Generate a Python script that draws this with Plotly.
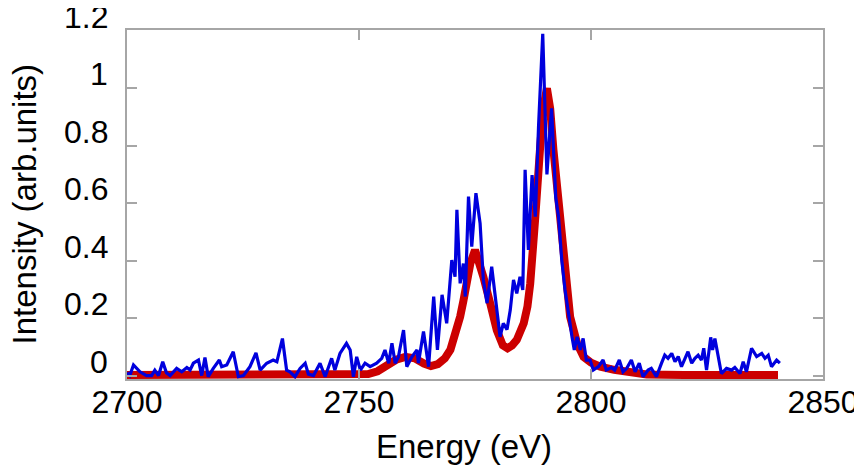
import plotly.graph_objects as go

# Measured spectrum (blue)
meas_energy = [
    2700.0, 2700.6, 2701.4, 2702.8, 2704.2, 2705.3, 2706.0, 2706.8, 2707.7, 2708.5,
    2709.3, 2710.7, 2711.8, 2712.9, 2713.6, 2714.3, 2715.4, 2716.1, 2716.8, 2717.5,
    2718.6, 2719.9, 2720.4, 2721.5, 2722.9, 2724.0, 2725.1, 2726.5, 2727.8, 2728.7,
    2730.1, 2731.5, 2732.3, 2733.5, 2734.4, 2735.1, 2736.2, 2737.3, 2738.4, 2739.1,
    2740.2, 2741.6, 2742.7, 2744.1, 2744.8, 2745.9, 2747.3, 2748.1, 2748.8, 2749.5,
    2750.3, 2751.3, 2752.4, 2753.8, 2754.9, 2755.6, 2756.4, 2757.1, 2757.8, 2758.5,
    2758.9, 2759.6, 2760.3, 2761.4, 2762.5, 2762.8, 2763.9, 2765.0, 2766.1, 2766.9,
    2767.9, 2768.9, 2770.0, 2770.7, 2771.1, 2771.8, 2772.5, 2772.9, 2773.6, 2774.3,
    2775.2, 2776.1, 2776.8, 2777.6, 2778.6, 2779.7, 2780.4, 2781.1, 2781.9, 2782.6,
    2783.3, 2784.0, 2784.7, 2785.3, 2785.8, 2786.5, 2787.3, 2788.0, 2788.7, 2789.6,
    2790.5, 2791.5, 2792.4, 2793.0, 2793.7, 2794.4, 2795.2, 2795.9, 2796.4, 2797.0,
    2797.7, 2798.3, 2799.0, 2799.8, 2800.5, 2801.6, 2802.6, 2803.3, 2804.4, 2805.1,
    2806.1, 2806.9, 2807.7, 2808.7, 2809.5, 2810.4, 2811.2, 2812.3, 2813.0, 2814.1,
    2815.2, 2815.9, 2816.6, 2817.4, 2818.1, 2818.8, 2819.5, 2820.2, 2820.9, 2821.7,
    2822.4, 2823.1, 2823.8, 2824.3, 2824.9, 2825.8, 2826.2, 2826.7, 2827.4, 2828.1,
    2829.2, 2830.3, 2831.0, 2832.1, 2832.8, 2833.5, 2834.6, 2835.7, 2836.8, 2837.5,
    2838.2, 2838.9, 2840.0, 2840.7,
]
meas_intensity = [
    0.010, 0.000, 0.037, 0.013, 0.000, 0.000, 0.019, 0.000, 0.048, 0.010,
    0.000, 0.025, 0.013, 0.028, 0.019, 0.043, 0.054, 0.000, 0.063, -0.004,
    0.025, 0.054, 0.031, 0.037, 0.083, -0.004, 0.000, 0.031, 0.079, 0.019,
    0.043, 0.054, 0.048, 0.129, 0.019, 0.013, -0.004, 0.025, 0.043, 0.005,
    0.000, 0.043, -0.004, 0.060, 0.019, 0.077, 0.112, 0.089, -0.004, 0.065,
    0.019, 0.043, 0.031, 0.043, 0.060, 0.089, 0.043, 0.112, 0.043, 0.065,
    0.100, 0.158, 0.031, 0.065, 0.089, 0.043, 0.153, 0.031, 0.275, 0.089,
    0.281, 0.182, 0.402, 0.344, 0.577, 0.321, 0.390, 0.275, 0.623, 0.449,
    0.635, 0.530, 0.333, 0.252, 0.379, 0.228, 0.135, 0.182, 0.160, 0.228,
    0.333, 0.286, 0.344, 0.298, 0.716, 0.437, 0.698, 0.553, 0.870, 1.190,
    0.700, 0.930, 0.620, 0.553, 0.402, 0.298, 0.205, 0.135, 0.089, 0.135,
    0.089, 0.129, 0.054, 0.054, 0.019, 0.031, 0.054, 0.019, 0.028, 0.019,
    0.054, 0.013, 0.025, 0.054, 0.013, 0.043, -0.004, 0.019, 0.025, -0.004,
    0.043, 0.071, 0.060, 0.077, 0.048, 0.066, 0.031, 0.054, 0.083, 0.043,
    0.060, 0.071, 0.054, 0.095, 0.019, 0.133, 0.089, 0.129, 0.071, 0.007,
    0.025, 0.019, 0.028, 0.007, 0.048, 0.013, 0.095, 0.066, 0.077, 0.060,
    0.071, 0.031, 0.054, 0.043,
]

# Fitted / calculated spectrum (red)
calc_energy = [
    2700.0, 2710.0, 2720.0, 2730.0, 2740.0, 2750.0, 2752.0, 2754.0, 2756.0, 2758.0,
    2760.0, 2762.0, 2764.0, 2765.5, 2767.0, 2768.5, 2769.7, 2771.0, 2771.8, 2772.5,
    2773.2, 2774.0, 2775.0, 2776.0, 2776.8, 2778.3, 2779.7, 2781.0, 2782.0, 2783.0,
    2784.0, 2785.5, 2786.3, 2786.9, 2787.5, 2788.0, 2789.0, 2789.7, 2790.5, 2791.2,
    2791.9, 2793.0, 2794.1, 2795.5, 2797.0, 2798.4, 2800.0, 2802.0, 2805.0, 2808.0,
    2812.0, 2820.0, 2830.0, 2840.3,
]
calc_intensity = [
    0.002, 0.002, 0.002, 0.002, 0.002, 0.003, 0.005, 0.015, 0.035, 0.055,
    0.065, 0.060, 0.042, 0.033, 0.040, 0.060, 0.090, 0.150, 0.205, 0.260,
    0.320, 0.390, 0.437, 0.390, 0.344, 0.250, 0.158, 0.105, 0.095, 0.105,
    0.124, 0.182, 0.240, 0.320, 0.430, 0.553, 0.786, 0.930, 1.000, 0.930,
    0.786, 0.611, 0.402, 0.205, 0.112, 0.065, 0.045, 0.031, 0.020, 0.012,
    0.004, 0.002, 0.002, 0.002,
]

x_ticks = [2700, 2750, 2800, 2850]
y_ticks = [0, 0.2, 0.4, 0.6, 0.8, 1.0, 1.2]
y_tick_text = ["0", "0.2", "0.4", "0.6", "0.8", "1", "1.2"]
x_title = "Energy (eV)"
y_title = "Intensity (arb.units)"

FONT = "Liberation Sans, Arial, Helvetica, sans-serif"
FRAME = "#a6a6a6"

fig = go.Figure()
fig.add_trace(go.Scatter(
    x=calc_energy, y=calc_intensity, mode="lines",
    line=dict(color="#cc0000", width=8), showlegend=False,
))
fig.add_trace(go.Scatter(
    x=meas_energy, y=meas_intensity, mode="lines",
    line=dict(color="#0000dd", width=3.2), showlegend=False,
))

# the page adds an 8px body margin, so the figure is sized to fit the window
fig.update_layout(
    width=854, height=464,
    margin=dict(l=119, r=39, t=22, b=93),
    paper_bgcolor="white", plot_bgcolor="white",
    font=dict(family=FONT, size=32, color="black"),
    showlegend=False,
)
fig.update_xaxes(
    range=[2700, 2850], tickvals=x_ticks,
    ticks="inside", ticklen=10, tickcolor=FRAME, tickwidth=1.5,
    showline=True, linecolor=FRAME, linewidth=1.5, mirror="ticks",
    showgrid=False, zeroline=False, automargin=False,
    tickfont=dict(size=32),
    ticklabelstandoff=-6,
)
fig.update_yaxes(
    range=[-0.012, 1.203], tickvals=y_ticks,
    ticks="inside", ticklen=10, tickcolor=FRAME, tickwidth=1.5,
    showline=True, linecolor=FRAME, linewidth=1.5, mirror="ticks",
    showgrid=False, zeroline=False, automargin=False,
    showticklabels=False,
)

# y tick labels (sit slightly above their ticks, as in the original)
for v, t in zip(y_ticks, y_tick_text):
    fig.add_annotation(
        xref="paper", yref="y", x=0, y=v, text=t, showarrow=False,
        xanchor="right", yanchor="middle", xshift=-17, yshift=14,
        font=dict(family=FONT, size=32, color="black"),
    )

fig.add_annotation(
    xref="paper", yref="paper", x=0.5, y=0, text=x_title, showarrow=False,
    xanchor="center", yanchor="middle", xshift=-11, yshift=-67,
    font=dict(family=FONT, size=33, color="black"),
)
fig.add_annotation(
    xref="paper", yref="paper", x=0, y=0.5, text=y_title, showarrow=False,
    xanchor="center", yanchor="middle", xshift=-103, textangle=-90,
    font=dict(family=FONT, size=33, color="black"),
)

fig.write_html("out.html")
